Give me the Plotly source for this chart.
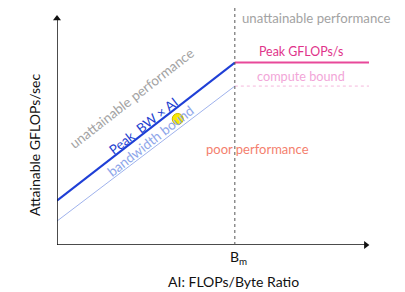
import plotly.graph_objects as go

# ---- data (arbitrary units) ----
x_axis_max = 10.0
y_axis_max = 10.0
bm = 5.7                      # ridge point B_m
peak_bw_y = [1.93, 7.93]      # Peak BW x AI line at x=0 and x=Bm
bw_bound_y = [1.04, 6.91]     # bandwidth bound line
peak_flops = 7.93
compute_bound = 6.91
point_x = [3.87]
point_y = [5.48]

FONT = "Lato"
fig = go.Figure()

# axes lines with arrowheads
fig.add_shape(type="line", xref="x", yref="y", x0=0, y0=0, x1=x_axis_max - 0.1, y1=0,
              line=dict(color="#111111", width=1.5))
fig.add_shape(type="line", xref="x", yref="y", x0=0, y0=0, x1=0, y1=y_axis_max - 0.1,
              line=dict(color="#111111", width=1.5))
fig.add_trace(go.Scatter(x=[x_axis_max - 0.1, 0], y=[0, y_axis_max - 0.15], mode="markers",
                         marker=dict(symbol=["triangle-right", "triangle-up"], size=7,
                                     color="#111111"),
                         cliponaxis=False, hoverinfo="skip"))

# roof lines
fig.add_trace(go.Scatter(x=[0, bm], y=bw_bound_y, mode="lines",
                         line=dict(color="#9fb2ec", width=1), hoverinfo="skip"))
fig.add_trace(go.Scatter(x=[bm, x_axis_max], y=[compute_bound, compute_bound], mode="lines",
                         line=dict(color="#f5b8dc", width=1, dash="dot"), hoverinfo="skip"))
fig.add_trace(go.Scatter(x=[0, bm], y=peak_bw_y, mode="lines",
                         line=dict(color="#1f3fd6", width=2), hoverinfo="skip"))
fig.add_trace(go.Scatter(x=[bm, x_axis_max], y=[peak_flops, peak_flops], mode="lines",
                         line=dict(color="#e8489a", width=2), hoverinfo="skip"))
fig.add_trace(go.Scatter(x=point_x, y=point_y, mode="markers",
                         marker=dict(color="#f7e800", size=11, line=dict(color="#c9b800", width=1)),
                         hoverinfo="skip"))

# dashed B_m line
fig.add_shape(type="line", xref="x", yref="paper", x0=bm, x1=bm, y0=0, y1=1.0,
              line=dict(color="#555555", width=1, dash="dot"))

def label(text, x, y, color, size=13, angle=0):
    fig.add_annotation(x=x, y=y, xref="x", yref="y", text=text, showarrow=False,
                       xanchor="center", yanchor="middle",
                       textangle=angle, font=dict(family=FONT, size=size, color=color))

ang = -38
label("unattainable performance", 8.3, 9.86, "#a3a3a3", size=13.2)
label("Peak GFLOPs/s", 7.82, 8.4, "#e0338a", size=12.4)
label("compute bound", 7.81, 7.35, "#f2a6d8", size=12.7)
label("poor performance", 6.43, 4.19, "#f47f6e", size=13)
label("unattainable performance", 2.4, 6.4, "#a3a3a3", size=13.6, angle=ang)
label("Peak  BW × AI", 2.76, 5.17, "#1e3fcf", size=13.2, angle=ang)
label("bandwidth bound", 3.0, 4.52, "#8ea6ea", size=13.6, angle=ang)

# axis titles / ticks (paper coords, below/left of plot area)
def paper_label(text, px, py, angle=0):
    fig.add_annotation(x=(px - 57) / 312, y=(245 - py) / 240, xref="paper", yref="paper",
                       text=text, showarrow=False, textangle=angle,
                       xanchor="center", yanchor="middle",
                       font=dict(family=FONT, size=14, color="#111111"))

paper_label("B<sub>m</sub>", 238, 257)
paper_label("AI: FLOPs/Byte Ratio", 233, 281)
paper_label("Attainable GFLOPs/sec", 35, 145, angle=-90)

fig.update_xaxes(range=[0, x_axis_max], visible=False)
fig.update_yaxes(range=[0, 240 / 23], visible=False)
fig.update_layout(width=405, height=292, margin=dict(l=57, r=36, t=5, b=47, autoexpand=False),
                  showlegend=False, plot_bgcolor="white", paper_bgcolor="white")

fig.write_html("out.html", config={"displayModeBar": False},
               post_script="document.body.style.margin='0';")
